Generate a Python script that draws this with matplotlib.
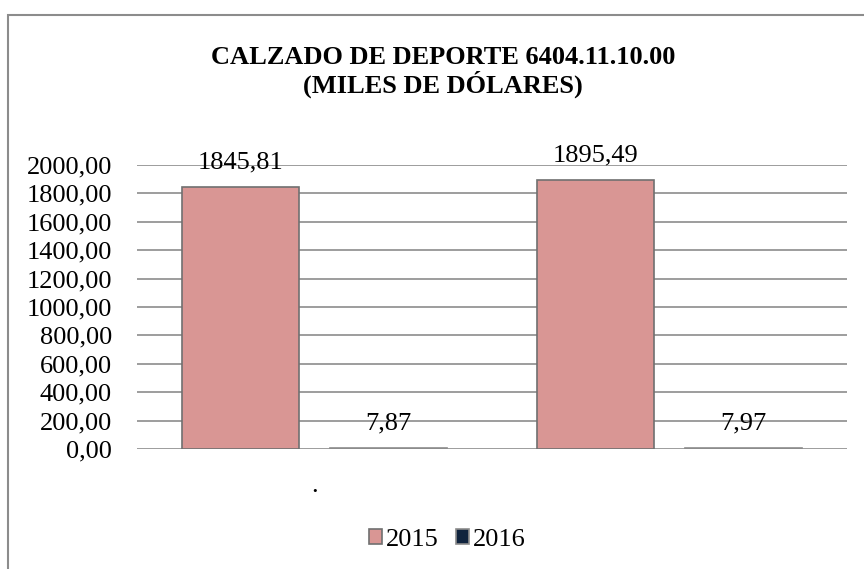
import matplotlib
matplotlib.use("Agg")
import matplotlib.pyplot as plt
from matplotlib.patches import Rectangle
from matplotlib.ticker import FuncFormatter
import numpy as np

plt.rcParams['font.family'] = ['Liberation Serif', 'DejaVu Serif']

categories = [".", ""]
series_names = ["2015", "2016"]
values_2015 = [1845.81, 1895.49]
values_2016 = [7.87, 7.97]
colors = ["#D99694", "#10243E"]
yticks = [0, 200, 400, 600, 800, 1000, 1200, 1400, 1600, 1800, 2000]

FS = 19
W, H = 864, 569
fig = plt.figure(figsize=(W/100, H/100), dpi=100)

# outer frame
fig.patches.append(Rectangle((8/W, -0.2), 1.2, 1.2 - 15/H, transform=fig.transFigure,
                             fill=False, edgecolor="#8c8c8c", linewidth=1.5))

ax = fig.add_axes([137/W, 1 - 449/H, (847-137)/W, (449-165)/H])
x = np.arange(len(categories))
bw = 0.331
off = 0.209
edge = "#707070"
b1 = ax.bar(x - off, values_2015, bw, color=colors[0], edgecolor=edge, linewidth=1.2,
            label=series_names[0], zorder=3)
b2 = ax.bar(x + off, values_2016, bw, color=colors[1], edgecolor="#8c8c8c", linewidth=1.2,
            label=series_names[1], zorder=3)

def fmt(v):
    return f"{v:.2f}".replace(".", ",")

for bars, vals in ((b1, values_2015), (b2, values_2016)):
    for r, v in zip(bars, vals):
        ax.annotate(fmt(v), (r.get_x() + r.get_width()/2, v), xytext=(0, 13),
                    textcoords="offset points", ha="center", va="baseline",
                    fontsize=FS, zorder=4)

ax.set_xlim(-0.5, len(categories) - 0.5)
ax.set_ylim(0, 2000)
ax.set_yticks(yticks)
ax.yaxis.set_major_formatter(FuncFormatter(lambda v, p: fmt(v)))
ax.set_xticks(x)
ax.set_xticklabels(categories)
ax.tick_params(axis="both", length=0, labelsize=FS)
ax.tick_params(axis="y", pad=18)
ax.tick_params(axis="x", pad=19)
for s in ax.spines.values():
    s.set_visible(False)
ax.grid(axis="y", color="#8c8c8c", linewidth=1.2, zorder=0)
ax.set_axisbelow(True)

fig.text(443/W, 1 - 72/H, "CALZADO DE DEPORTE 6404.11.10.00\n(MILES DE DÓLARES)",
         ha="center", va="center", fontsize=FS, fontweight="bold", linespacing=1.1)

leg = fig.legend(handles=[b1, b2], labels=series_names, loc="center",
                 bbox_to_anchor=(447/W, 1 - 540/H), ncol=2, frameon=False,
                 fontsize=FS, handlelength=0.5, handleheight=0.5,
                 handletextpad=0.15, columnspacing=0.65)

fig.savefig("out.png", dpi=100)
